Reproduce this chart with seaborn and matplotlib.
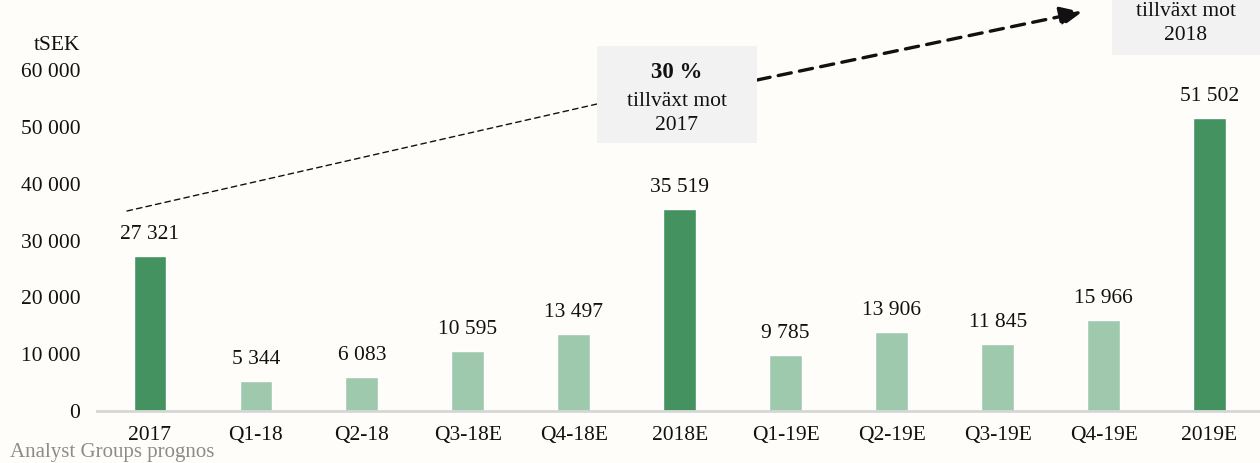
import matplotlib
matplotlib.use("Agg")
import matplotlib.pyplot as plt
import pandas as pd
import seaborn as sns

# chart data
categories = ["2017", "Q1-18", "Q2-18", "Q3-18E", "Q4-18E", "2018E",
              "Q1-19E", "Q2-19E", "Q3-19E", "Q4-19E", "2019E"]
values = [27321, 5344, 6083, 10595, 13497, 35519, 9785, 13906, 11845, 15966, 51502]
kinds = ["år", "kvartal", "kvartal", "kvartal", "kvartal", "år",
         "kvartal", "kvartal", "kvartal", "kvartal", "år"]
yticks = [0, 10000, 20000, 30000, 40000, 50000, 60000]

DARK = "#44925f"
LIGHT = "#9fc9ad"
BG = "#fefdf9"

sns.set_theme(style="white")
plt.rcParams["font.family"] = ["Liberation Serif", "DejaVu Serif"]

df = pd.DataFrame({"kategori": categories, "varde": values, "typ": kinds})

fig = plt.figure(figsize=(12.6, 4.63), dpi=100, facecolor=BG)
ax = fig.add_axes([0.077, 0.112, 0.925, 0.737])
ax.set_facecolor(BG)

sns.barplot(data=df, x="kategori", y="varde", hue="typ", dodge=False,
            palette={"år": DARK, "kvartal": LIGHT}, width=0.31,
            saturation=1, legend=False, ax=ax)

for i, v in enumerate(values):
    ax.annotate(f"{v:,}".replace(",", " "), (i, v), xytext=(0, 15.5),
                textcoords="offset points", ha="center", va="center",
                fontsize=15.5, color="#111111")

ax.set_xlim(-0.5, 10.5)
ax.set_ylim(0, 60000)
ax.set_yticks(yticks)
ax.set_yticklabels([f"{t:,}".replace(",", " ") for t in yticks])
ax.tick_params(axis="y", length=0, pad=12, labelsize=15.5, labelcolor="#111111")
ax.tick_params(axis="x", length=0, pad=11, labelsize=15.5, labelcolor="#111111")
ax.set_xlabel("")
ax.set_ylabel("")
for s in ["top", "right", "left"]:
    ax.spines[s].set_visible(False)
ax.spines["bottom"].set_color("#d6d6d6")
ax.spines["bottom"].set_linewidth(2)


def px(x, y):
    return (x / 1260, 1 - y / 463)


ft = fig.transFigure
fig.text(*px(57, 45), "tSEK", ha="center", va="center", fontsize=15.5, color="#111111")
fig.text(*px(10, 453), "Analyst Groups prognos", ha="left", va="center",
         fontsize=15, color="#8c8c8c")

# thin dashed line to first box
ax.annotate("", xy=px(597, 104), xytext=px(127, 211), xycoords=ft, textcoords=ft,
            arrowprops=dict(arrowstyle="-", linestyle=(0, (4, 3)), color="#111111",
                            lw=1.0, shrinkA=0, shrinkB=0), annotation_clip=False)
# thick dashed arrow to second box
ax.annotate("", xy=px(1082, 12), xytext=px(757, 80), xycoords=ft, textcoords=ft,
            arrowprops=dict(arrowstyle="-|>,head_length=1.1,head_width=0.5",
                            linestyle=(0, (4, 2.5)), color="#111111",
                            lw=2.4, shrinkA=0, shrinkB=0), annotation_clip=False)

box1 = plt.Rectangle(px(597, 143), (757 - 597) / 1260, (143 - 46) / 463,
                     transform=ft, facecolor="#f2f2f2", edgecolor="none")
box2 = plt.Rectangle(px(1112, 55), (1262 - 1112) / 1260, 80 / 463,
                     transform=ft, facecolor="#f2f2f2", edgecolor="none")
fig.patches.extend([box1, box2])

fig.text(*px(677, 72), "30 %", ha="center", va="center", fontsize=16.5,
         fontweight="bold", color="#111111")
fig.text(*px(677, 101), "tillväxt mot", ha="center", va="center", fontsize=15.5, color="#111111")
fig.text(*px(677, 126), "2017", ha="center", va="center", fontsize=15.5, color="#111111")

fig.text(*px(1186, 11), "tillväxt mot", ha="center", va="center", fontsize=15.5, color="#111111")
fig.text(*px(1186, 36), "2018", ha="center", va="center", fontsize=15.5, color="#111111")

fig.savefig("out.png", dpi=100, facecolor=BG)
